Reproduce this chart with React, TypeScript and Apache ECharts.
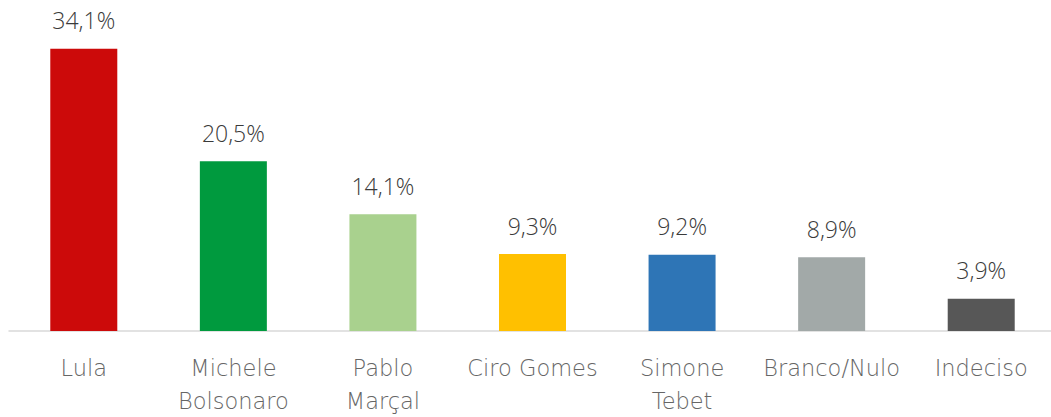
import React, { useEffect, useRef } from "react";
import * as echarts from "echarts";

const categories = ["Lula", "Michele\nBolsonaro", "Pablo\nMarçal", "Ciro Gomes", "Simone\nTebet", "Branco/Nulo", "Indeciso"];
const values = [34.1, 20.5, 14.1, 9.3, 9.2, 8.9, 3.9];
const colors = ["#CC0A0A", "#009A3E", "#A9D18E", "#FFC000", "#2E75B6", "#A2A9A8", "#575757"];

export default function App() {
  const ref = useRef<HTMLDivElement>(null);
  useEffect(() => {
    const chart = echarts.init(ref.current!, null, { renderer: "svg" });
    chart.setOption({
      animation: false,
      grid: { left: 9, width: 1047, top: -1, bottom: 86, containLabel: false },
      xAxis: {
        type: "category",
        data: categories,
        axisLine: { lineStyle: { color: "#D9D9D9", width: 1.5 } },
        axisTick: { show: false },
        axisLabel: {
          color: "#666666",
          fontFamily: "DejaVu Sans",
          fontWeight: 200,
          fontSize: 22.5,
          lineHeight: 33,
          margin: 20,
          interval: 0,
        },
      },
      yAxis: { type: "value", min: 0, max: 40, show: false, splitLine: { show: false } },
      series: [
        {
          type: "bar",
          barWidth: 67,
          data: values.map((v, i) => ({ value: v, itemStyle: { color: colors[i] } })),
          label: {
            show: true,
            position: "top",
            distance: 17,
            color: "#3A3A3A",
            fontFamily: "Open Sans",
            fontWeight: 300,
            fontSize: 23,
            formatter: (p: any) => String(p.value).replace(".", ",") + "%",
          },
        },
      ],
    });
    return () => chart.dispose();
  }, []);
  return (
    <div style={{ width: 1051, height: 417, position: "absolute", left: 0, top: 0, overflow: "hidden" }}>
      <div ref={ref} style={{ width: 1060, height: 417 }} />
    </div>
  );
}
